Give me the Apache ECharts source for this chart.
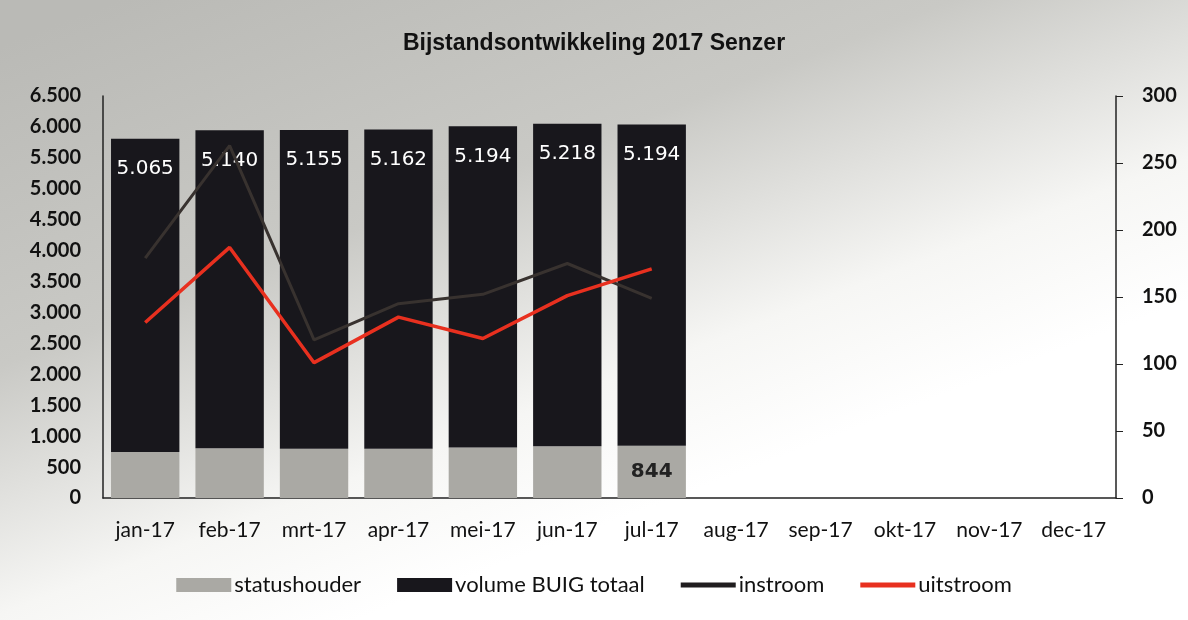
<!DOCTYPE html>
<html><head><meta charset="utf-8">
<script src="https://cdn.jsdelivr.net/npm/echarts@6/dist/echarts.min.js"></script>
<style>html,body{margin:0;padding:0;}#c{width:1188px;height:620px;}</style>
</head><body><div id="c"></div>
<script>
const categories = ['jan-17','feb-17','mrt-17','apr-17','mei-17','jun-17','jul-17','aug-17','sep-17','okt-17','nov-17','dec-17'];
const statushouder = [745, 805, 795, 795, 815, 835, 844, null, null, null, null, null];
const volumeBUIG = [5065, 5140, 5155, 5162, 5194, 5218, 5194, null, null, null, null, null];
const instroom = [179, 263, 118, 145, 152, 175, 149, null, null, null, null, null];
const uitstroom = [131, 187, 101, 135, 119, 151, 171, null, null, null, null, null];
const leftTicks = [0, 500, 1000, 1500, 2000, 2500, 3000, 3500, 4000, 4500, 5000, 5500, 6000, 6500];
const rightTicks = [0, 50, 100, 150, 200, 250, 300];

const fmt = v => String(v).replace(/\B(?=(\d{3})+(?!\d))/g, '.');
const chart = echarts.init(document.getElementById('c'));
const lastIdx = 6;
const lineIcon = 'path://M0,0L55,0L55,5L0,5Z';
chart.setOption({
  animation: false,
  graphic: [{
    type: 'rect', z: -100, silent: true,
    shape: {x: 0, y: 0, width: 1188, height: 620},
    style: {fill: new echarts.graphic.LinearGradient(0.1, 0, 0.3, 1, [
      {offset: 0, color: '#babab6'},
      {offset: 0.45, color: '#c9c9c5'},
      {offset: 0.8, color: '#f6f6f4'},
      {offset: 1, color: '#ffffff'}
    ])}
  }],
  title: {
    text: 'Bijstandsontwikkeling 2017 Senzer',
    left: 'center', top: 27,
    textStyle: {fontFamily: 'Liberation Sans', fontWeight: 'bold', fontSize: 23, color: '#111'}
  },
  legend: {
    bottom: 19, left: 'center',
    itemWidth: 55, itemHeight: 14, itemGap: 36, symbolKeepAspect: true,
    textStyle: {fontFamily: 'Lato', fontSize: 22, color: '#111', padding: [0, 0, 0, -2]},
    data: [
      {name: 'statushouder', icon: 'rect'},
      {name: 'volume BUIG totaal', icon: 'rect'},
      {name: 'instroom', icon: lineIcon, itemStyle: {color: '#201d1f'}},
      {name: 'uitstroom', icon: lineIcon, itemStyle: {color: '#e8301f'}}
    ]
  },
  grid: {left: 103, right: 72, top: 96, bottom: 122},
  xAxis: {
    type: 'category', data: categories,
    axisLine: {lineStyle: {color: '#222', width: 1.5}},
    axisTick: {show: false},
    axisLabel: {interval: 0, fontFamily: 'Lato', fontSize: 21, color: '#111', margin: 22}
  },
  yAxis: [{
    type: 'value', min: 0, max: 6500, interval: 500,
    axisLine: {show: true, lineStyle: {color: '#222', width: 1.5}},
    axisTick: {show: false},
    splitLine: {show: false},
    axisLabel: {fontFamily: 'Lato', fontWeight: 'bold', fontSize: 20, color: '#111', margin: 22,
      formatter: v => leftTicks.includes(v) ? fmt(v) : ''}
  }, {
    type: 'value', min: 0, max: 300, interval: 50, position: 'right',
    axisLine: {show: true, lineStyle: {color: '#222', width: 1.5}},
    axisTick: {show: true, inside: false, length: 7, lineStyle: {color: '#222'}},
    splitLine: {show: false},
    axisLabel: {fontFamily: 'Lato', fontWeight: 'bold', fontSize: 20, color: '#111', margin: 26,
      formatter: v => rightTicks.includes(v) ? String(v) : ''}
  }],
  series: [{
    name: 'statushouder', type: 'bar', stack: 'tot', barCategoryGap: '19%',
    itemStyle: {color: '#aaa9a4'},
    data: statushouder.map((v, i) => i === lastIdx ? {value: v, label: {show: true, position: 'inside',
      formatter: p => fmt(p.value), fontFamily: 'DejaVu Sans', fontWeight: 'bold', fontSize: 20, color: '#222'}} : v)
  }, {
    name: 'volume BUIG totaal', type: 'bar', stack: 'tot',
    itemStyle: {color: '#18171c'},
    label: {show: true, position: 'insideTop', distance: 20, color: '#fff', fontFamily: 'DejaVu Sans', fontSize: 20,
      formatter: p => fmt(p.value)},
    data: volumeBUIG
  }, {
    name: 'instroom', type: 'line', yAxisIndex: 1, symbol: 'none', z: 5,
    lineStyle: {color: '#38322f', width: 3}, itemStyle: {color: '#201d1f'},
    data: instroom
  }, {
    name: 'uitstroom', type: 'line', yAxisIndex: 1, symbol: 'none', z: 6,
    lineStyle: {color: '#e8301f', width: 3.5}, itemStyle: {color: '#e8301f'},
    data: uitstroom
  }]
});
</script></body></html>
